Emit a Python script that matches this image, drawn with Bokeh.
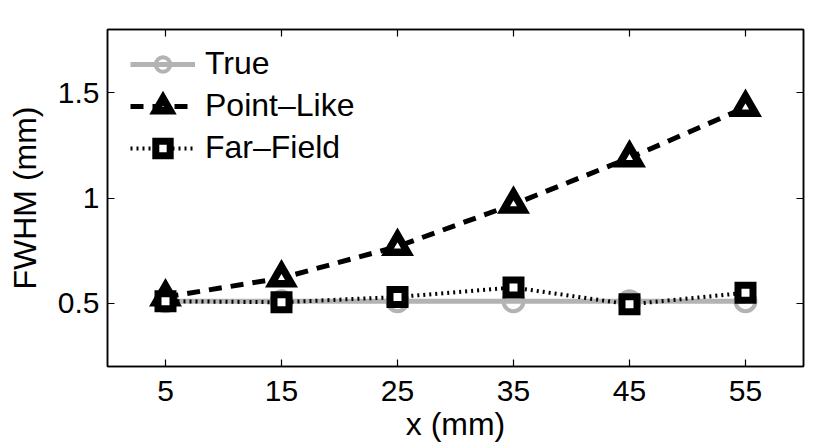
from bokeh.plotting import figure
from bokeh.models import (LinearAxis, FixedTicker, Legend, LegendItem, Range1d,
                          CustomLabelingPolicy)
from bokeh.embed import file_html
from bokeh.resources import INLINE

# FWHM of the reconstructed source versus position x
x_mm = [5, 15, 25, 35, 45, 55]
fwhm_true = [0.51, 0.51, 0.51, 0.51, 0.51, 0.51]
fwhm_point_like = [0.53, 0.62, 0.77, 0.97, 1.19, 1.43]
fwhm_far_field = [0.51, 0.505, 0.53, 0.575, 0.495, 0.55]

x_ticks = [5, 15, 25, 35, 45, 55]
y_ticks = [0.5, 1, 1.5]
y_tick_labels = ["0.5", "1", "1.5"]
series_names = ["True", "Point\u2013Like", "Far\u2013Field"]

FONT = "Liberation Sans"
GRAY = "#b3b3b3"

p = figure(
    frame_width=696, frame_height=337,
    min_border_left=107, min_border_right=18,
    min_border_top=29, min_border_bottom=80,
    x_range=Range1d(0, 60), y_range=Range1d(0.2, 1.8),
    output_backend="svg", toolbar_location=None,
    background_fill_color="white", border_fill_color="white",
)
p.xgrid.visible = False
p.ygrid.visible = False
p.outline_line_color = "black"
p.outline_line_width = 1.5

def style_axis(ax, ticks, show_labels):
    ax.ticker = FixedTicker(ticks=ticks)
    ax.major_tick_in = 7
    ax.major_tick_out = 0
    ax.minor_tick_line_color = None
    ax.axis_line_color = "black"
    ax.axis_line_width = 1.5
    ax.major_tick_line_width = 1.2
    ax.major_tick_line_color = "black"
    if show_labels:
        ax.major_label_text_font = FONT
        ax.major_label_text_font_size = "30px"
        ax.major_label_text_color = "black"
        ax.axis_label_text_font = FONT
        ax.axis_label_text_font_size = "32px"
        ax.axis_label_text_font_style = "normal"
        ax.axis_label_text_color = "black"
    else:
        # box axes: ticks only, no labels kept
        ax.major_label_policy = CustomLabelingPolicy(code="return new Set()")
        ax.major_label_standoff = 0

xa = p.xaxis[0]
ya = p.yaxis[0]
style_axis(xa, x_ticks, True)
style_axis(ya, y_ticks, True)
xa.axis_label = "x (mm)"
ya.axis_label = "FWHM (mm)"
xa.major_label_standoff = 14
xa.axis_label_standoff = 2
ya.major_label_standoff = 8
ya.axis_label_standoff = 12
ya.major_label_overrides = {t: s for t, s in zip(y_ticks, y_tick_labels)}

top_axis = LinearAxis()
right_axis = LinearAxis()
style_axis(top_axis, x_ticks, False)
style_axis(right_axis, y_ticks, False)
p.add_layout(top_axis, "above")
p.add_layout(right_axis, "right")

# True
l_true = p.line(x_mm, fwhm_true, line_color=GRAY, line_width=5)
m_true = p.scatter(x_mm, fwhm_true, marker="circle", size=20,
                   line_color=GRAY, line_width=4, fill_color=None)

# Point-like model
l_pl = p.line(x_mm, fwhm_point_like, line_color="black", line_width=5,
              line_dash="13 9")
m_pl = p.scatter(x_mm, fwhm_point_like, marker="triangle", size=20,
                 line_color="black", line_width=7.5, line_join="miter",
                 fill_color="white")

# Far-field model
l_ff = p.line(x_mm, fwhm_far_field, line_color="black", line_width=4,
              line_dash="2 4")
m_ff = p.scatter(x_mm, fwhm_far_field, marker="square", size=15,
                 line_color="black", line_width=7, line_join="miter",
                 fill_color="white")

legend = Legend(
    items=[
        LegendItem(label=series_names[0], renderers=[l_true, m_true]),
        LegendItem(label=series_names[1], renderers=[l_pl, m_pl]),
        LegendItem(label=series_names[2], renderers=[l_ff, m_ff]),
    ],
    location=(23, 200),
    glyph_width=65, glyph_height=36, label_height=36,
    label_standoff=10, spacing=5, padding=0, margin=0,
    border_line_color=None, background_fill_alpha=0,
    label_text_font=FONT, label_text_font_size="32px",
    label_text_color="black",
)
p.add_layout(legend)

open("out.html", "w").write(file_html(p, INLINE))
